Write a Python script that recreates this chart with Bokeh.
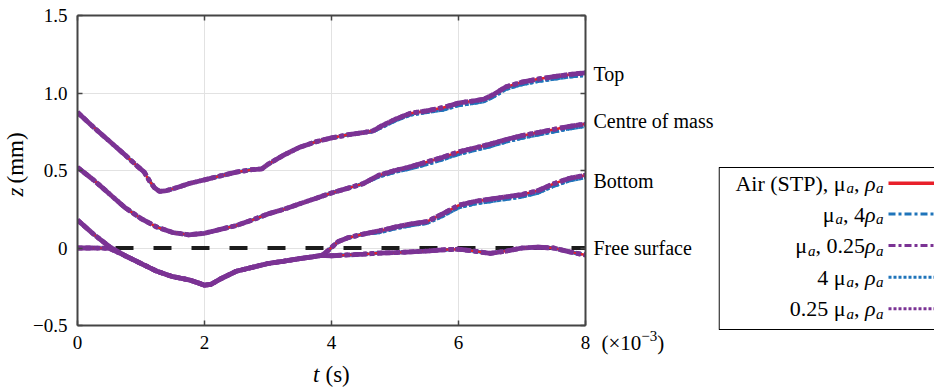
from math import pi
from bokeh.plotting import figure
from bokeh.layouts import row, column
from bokeh.models import Range1d, LinearAxis, FixedTicker
from bokeh.core.properties import value
from bokeh.embed import file_html
from bokeh.resources import INLINE

# ---------------- data (t in ms, z in mm) ----------------
t_top = [0, 0.25, 0.5, 0.75, 0.95, 1.05, 1.13, 1.21, 1.29, 1.4, 1.57, 1.75, 2.0,
         2.25, 2.5, 2.75, 2.9, 3.0, 3.25, 3.5, 3.75, 4.0, 4.25, 4.5, 4.65, 4.8, 5.0,
         5.25, 5.5, 5.75, 6.0, 6.25, 6.4, 6.55, 6.75, 7.0, 7.25, 7.5, 7.75, 8.0]
z_top_air = [0.875, 0.78, 0.69, 0.60, 0.525, 0.49, 0.435, 0.39, 0.365, 0.37, 0.39, 0.415, 0.44,
             0.465, 0.49, 0.505, 0.51, 0.54, 0.60, 0.65, 0.685, 0.71, 0.73, 0.745, 0.755, 0.79, 0.83,
             0.87, 0.885, 0.905, 0.935, 0.95, 0.96, 0.99, 1.04, 1.07, 1.09, 1.105, 1.12, 1.13]
z_top_x4 = [0.875, 0.78, 0.69, 0.60, 0.525, 0.49, 0.435, 0.39, 0.365, 0.37, 0.39, 0.415, 0.44,
            0.465, 0.49, 0.505, 0.51, 0.54, 0.60, 0.65, 0.685, 0.71, 0.73, 0.745, 0.75, 0.78, 0.82,
            0.86, 0.875, 0.89, 0.92, 0.935, 0.945, 0.975, 1.025, 1.055, 1.075, 1.09, 1.105, 1.115]

t_com = [0, 0.25, 0.5, 0.75, 1.0, 1.25, 1.5, 1.75, 2.0, 2.25, 2.5, 2.75, 3.0, 3.25, 3.5, 3.75,
         4.0, 4.25, 4.5, 4.75, 5.0, 5.25, 5.5, 5.75, 6.0, 6.25, 6.5, 6.75, 7.0, 7.25, 7.5, 7.75, 8.0]
z_com_air = [0.52, 0.44, 0.35, 0.26, 0.19, 0.135, 0.10, 0.085, 0.095, 0.12, 0.145, 0.18, 0.22, 0.25,
             0.285, 0.32, 0.355, 0.385, 0.415, 0.47, 0.50, 0.525, 0.555, 0.585, 0.62, 0.645, 0.67,
             0.70, 0.725, 0.745, 0.765, 0.785, 0.80]
z_com_x4 = [0.52, 0.44, 0.35, 0.26, 0.19, 0.135, 0.10, 0.085, 0.095, 0.12, 0.145, 0.18, 0.22, 0.25,
            0.285, 0.32, 0.355, 0.385, 0.415, 0.46, 0.49, 0.512, 0.54, 0.57, 0.605, 0.63, 0.655,
            0.685, 0.71, 0.73, 0.75, 0.77, 0.785]

t_bot = [0, 0.25, 0.5, 0.75, 1.0, 1.25, 1.5, 1.75, 1.9, 2.0, 2.1, 2.25, 2.5, 2.75, 3.0, 3.25, 3.5,
         3.7, 3.85, 3.95, 4.1, 4.25, 4.5, 4.75, 5.0, 5.25, 5.5, 5.75, 6.0, 6.25, 6.5, 6.75, 7.0,
         7.25, 7.5, 7.75, 8.0]
z_bot_air = [0.18, 0.09, 0.01, -0.05, -0.10, -0.15, -0.185, -0.205, -0.225, -0.24, -0.235, -0.2,
             -0.15, -0.125, -0.10, -0.085, -0.068, -0.057, -0.048, -0.015, 0.04, 0.065, 0.09, 0.11,
             0.135, 0.155, 0.17, 0.22, 0.275, 0.30, 0.315, 0.33, 0.345, 0.37, 0.415, 0.45, 0.47]
z_bot_x4 = [0.18, 0.09, 0.01, -0.05, -0.10, -0.15, -0.185, -0.205, -0.225, -0.24, -0.235, -0.2,
            -0.15, -0.125, -0.10, -0.085, -0.068, -0.057, -0.048, -0.015, 0.04, 0.065, 0.09, 0.10,
            0.125, 0.145, 0.16, 0.205, 0.26, 0.285, 0.30, 0.315, 0.33, 0.355, 0.40, 0.435, 0.455]

t_fs = [0, 0.25, 0.5, 0.75, 1.0, 1.25, 1.5, 1.75, 1.9, 2.0, 2.1, 2.25, 2.5, 2.75, 3.0, 3.25, 3.5,
        3.7, 3.85, 4.0, 4.25, 4.5, 4.75, 5.0, 5.25, 5.5, 5.75, 6.0, 6.25, 6.5, 6.75, 7.0, 7.25,
        7.5, 7.75, 8.0]
z_fs = [0.0, 0.0, -0.002, -0.05, -0.10, -0.15, -0.185, -0.205, -0.225, -0.24, -0.235, -0.2, -0.15,
        -0.125, -0.10, -0.085, -0.068, -0.057, -0.048, -0.05, -0.045, -0.04, -0.033, -0.03, -0.025,
        -0.02, -0.012, -0.008, -0.02, -0.035, -0.02, 0.0, 0.005, 0.0, -0.025, -0.045]

surface_t = [0, 8]
surface_z = [0, 0]

x_ticks = [0, 2, 4, 6, 8]
y_ticks = [-0.5, 0, 0.5, 1.0, 1.5]
y_tick_labels = ["\u22120.5", "0", "0.5", "1.0", "1.5"]
curve_names = ["Top", "Centre of mass", "Bottom", "Free surface"]
curve_name_z = [1.12, 0.82, 0.435, 0.0]
# legend labels as (text, kind) pieces: n = upright, i = italic, s = italic subscript
legend_pieces = [
    [("Air (STP), \u03bc", "n"), ("a", "s"), (", ", "n"), ("\u03c1", "i"), ("a", "s")],
    [("\u03bc", "n"), ("a", "s"), (", 4", "n"), ("\u03c1", "i"), ("a", "s")],
    [("\u03bc", "n"), ("a", "s"), (", 0.25", "n"), ("\u03c1", "i"), ("a", "s")],
    [("4 \u03bc", "n"), ("a", "s"), (", ", "n"), ("\u03c1", "i"), ("a", "s")],
    [("0.25 \u03bc", "n"), ("a", "s"), (", ", "n"), ("\u03c1", "i"), ("a", "s")],
]

# ---------------- styles ----------------
FONT = "Liberation Serif"
RED, BLUE, PURPLE = "#E8202A", "#1F74BA", "#7B3394"
AX = "#454545"
Y0, Y1 = -0.5, 1.5
PX_PER_Z = 310 / (Y1 - Y0)

# approximate Times/Liberation Serif advance widths (em) for text layout
EM = {"A": .722, "i": .278, "r": .333, " ": .25, "(": .333, "S": .556, "T": .611, "P": .556,
      ")": .333, ",": .25, "\u03bc": .576, "4": .5, "0": .5, ".": .25, "2": .5, "5": .5,
      "\u03c1": .5, "a": .5, "\u00d7": .564, "1": .5, "\u2212": .564, "3": .5}


def text_width(s, size):
    return sum(EM.get(c, .5) for c in s) * size


def helper(w, h, xr, yr):
    f = figure(width=w, height=h, x_range=xr, y_range=yr, output_backend="svg",
               toolbar_location=None, x_axis_location=None, y_axis_location=None,
               min_border_left=0, min_border_right=0, min_border_top=0, min_border_bottom=0)
    f.outline_line_color = None
    f.grid.visible = False
    f.frame_align = False
    return f


# ---------------- main plot ----------------
p = figure(width=560, height=360, x_range=Range1d(0, 8), y_range=Range1d(Y0, Y1),
           output_backend="svg", toolbar_location=None,
           min_border_left=47, min_border_right=5, min_border_top=15, min_border_bottom=35)
p.outline_line_color = None
p.frame_align = False

bottom_ax = p.below[0]
left_ax = p.left[0]
top_ax = LinearAxis()
right_ax = LinearAxis()
p.add_layout(top_ax, "above")
p.add_layout(right_ax, "right")

for ax in [bottom_ax, top_ax]:
    ax.ticker = FixedTicker(ticks=x_ticks)
for ax in [left_ax, right_ax]:
    ax.ticker = FixedTicker(ticks=y_ticks)

for ax in [bottom_ax, left_ax, top_ax, right_ax]:
    ax.axis_line_color = AX
    ax.axis_line_width = 2
    ax.major_tick_line_color = AX
    ax.major_tick_line_width = 1.5
    ax.major_tick_in = 5
    ax.major_tick_out = 0
    ax.minor_tick_in = 0
    ax.minor_tick_out = 0
    ax.major_label_text_font = FONT
    ax.major_label_text_font_size = "19px"
    ax.major_label_text_color = "black"

for ax in [top_ax, right_ax]:
    ax.major_label_overrides = {v: "" for v in (x_ticks if ax is top_ax else y_ticks)}
    ax.major_label_standoff = 0

left_ax.major_label_overrides = {v: s for v, s in zip(y_ticks, y_tick_labels)}
bottom_ax.major_label_overrides = {v: str(v) for v in x_ticks}
left_ax.major_label_standoff = 10
bottom_ax.major_label_standoff = 10

p.xgrid.ticker = FixedTicker(ticks=[2, 4, 6])
p.ygrid.ticker = FixedTicker(ticks=[0, 0.5, 1.0])
p.grid.grid_line_color = "#e2e2e2"
p.grid.grid_line_width = 1

# free-surface reference level
p.line(surface_t, surface_z, line_color="#1c1c1c", line_width=4, line_dash="18 20")

xs = [t_top, t_com, t_bot, t_fs]
ys_air = [z_top_air, z_com_air, z_bot_air, z_fs]
ys_x4 = [z_top_x4, z_com_x4, z_bot_x4, z_fs]

p.multi_line(xs, ys_x4, line_color=BLUE, line_width=3.5, line_dash="8 3 3 3")
p.multi_line(xs, ys_x4, line_color=BLUE, line_width=3.5, line_dash="3 2")
p.multi_line(xs, ys_air, line_color=RED, line_width=2.5)
p.multi_line(xs, ys_air, line_color=PURPLE, line_width=4.8, line_dash="16 3 4 3")
p.multi_line(xs, ys_air, line_color=PURPLE, line_width=4.8, line_dash="5 3")

# ---------------- left strip: z (mm) ----------------
ls = helper(30, 389, Range1d(0, 30), Range1d(0, 389))
ls.text(x=[15], y=[202], text=["z"], angle=pi / 2, text_align="right", text_baseline="middle",
        text_font=value(FONT), text_font_style="italic", text_font_size="23px", text_color="black")
ls.text(x=[15], y=[206], text=["(mm)"], angle=pi / 2, text_align="left", text_baseline="middle",
        text_font=value(FONT), text_font_size="23px", text_color="black")

# ---------------- bottom strip: t (s) ----------------
bs = helper(560, 29, Range1d(30, 590), Range1d(0, 29))
bs.text(x=[319], y=[15], text=["t"], text_align="right", text_baseline="middle",
        text_font=value(FONT), text_font_style="italic", text_font_size="23px", text_color="black")
bs.text(x=[325], y=[15], text=["(s)"], text_align="left", text_baseline="middle",
        text_font=value(FONT), text_font_size="23px", text_color="black")

# ---------------- middle strip: curve names, exponent ----------------
ms = helper(128, 389, Range1d(590, 718),
            Range1d(Y0 - 64 / PX_PER_Z, Y1 + 15 / PX_PER_Z))
ms.text(x=[593] * len(curve_names), y=curve_name_z, text=curve_names, text_align="left",
        text_baseline="middle", text_font=value(FONT), text_font_size="20px", text_color="black")
ex_y = -0.615
x0 = 601
for s, size, dy in [("(\u00d710", 21, 0), ("\u22123", 15, 7), (")", 21, 0)]:
    ms.text(x=[x0], y=[ex_y + dy / PX_PER_Z], text=[s], text_align="left",
            text_baseline="middle", text_font=value(FONT), text_font_size=f"{size}px",
            text_color="black")
    x0 += text_width(s, size)

# ---------------- legend panel ----------------
lg = helper(216, 389, Range1d(0, 216), Range1d(389, 0))
lg.quad(left=[0.6], right=[240], top=[167], bottom=[329], fill_color=None,
        line_color="black", line_width=1.2)

MAIN, SUB = 22, 15
row_y = [182.7, 213.5, 245.0, 276.7, 308.2]
styles = [(RED, "solid", 3.4), (BLUE, "7 3 3 3", 3), (PURPLE, "7 3 3 3", 3),
          (BLUE, "3 2", 3), (PURPLE, "3 2", 3)]
TEXT_RIGHT = 165
for pieces, yy, (col, dash, w) in zip(legend_pieces, row_y, styles):
    lg.line([170, 230], [yy, yy], line_color=col, line_dash=dash, line_width=w)
    sizes = [SUB if k == "s" else MAIN for _, k in pieces]
    total = sum(text_width(s, sz) for (s, _), sz in zip(pieces, sizes))
    xx = TEXT_RIGHT - total
    for (s, kind), sz in zip(pieces, sizes):
        lg.text(x=[xx], y=[yy + (5 if kind == "s" else 0)], text=[s], text_align="left",
                text_baseline="middle", text_font=value(FONT),
                text_font_style="normal" if kind == "n" else "italic",
                text_font_size=f"{sz}px", text_color="black")
        xx += text_width(s, sz)

layout = row(ls, column(p, bs, spacing=0), ms, lg, spacing=0)
open("out.html", "w").write(file_html(layout, INLINE))
